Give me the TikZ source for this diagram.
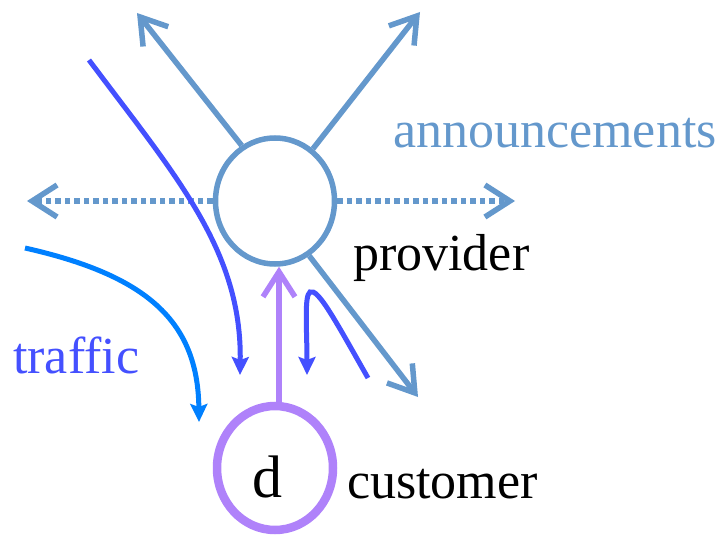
\documentclass[tikz,border=0pt]{standalone}
\usepackage{fontspec}
\setmainfont{Liberation Serif}
\usetikzlibrary{arrows.meta,shapes.geometric}
\definecolor{ann}{RGB}{100,152,204}
\definecolor{trf}{RGB}{68,80,255}
\definecolor{ltb}{RGB}{0,128,255}
\definecolor{pur}{RGB}{175,130,250}
\begin{document}
\begin{tikzpicture}[x=1pt,y=-1pt,
  barb/.tip={Straight Barb[length=25pt,width=32pt]},
  annarrow/.style={draw=ann,line width=5.5pt,-barb},
  anndot/.style={annarrow,dash pattern=on 5.5pt off 4pt},
  trfarrow/.style={draw=trf,line width=5pt,-{Stealth[length=18pt,width=17pt,inset=3pt]}},
  ltbarrow/.style={draw=ltb,line width=5pt,-{Stealth[length=18pt,width=17pt,inset=3pt]}},
  purarrow/.style={draw=pur,line width=5.5pt,-barb},
  provnode/.style={ellipse,draw=ann,line width=5.5pt,minimum width=119pt,minimum height=126pt,inner sep=0pt},
  custnode/.style={ellipse,draw=pur,line width=8.5pt,minimum width=116pt,minimum height=124pt,inner sep=0pt},
  lbl/.style={inner sep=0pt,anchor=base west,font=\fontsize{52}{60}\selectfont},
  dlbl/.style={inner sep=0pt,anchor=base,font=\fontsize{60}{70}\selectfont}
]
\useasboundingbox (0,0) rectangle (724,535);

\node[provnode] (prov) at (275,201) {};
\node[custnode] (cust) at (275,468) {};
\node[dlbl] (dtxt) at (267,497) {d};

% announcement ends
\coordinate (ul) at (137,13);
\coordinate (ur) at (420,12);
\coordinate (lr) at (418,397);
\coordinate (lt) at (27,201);
\coordinate (rt) at (515,201);

\draw[annarrow] (prov.121) -- (ul);
\draw[annarrow] (prov.54) -- (ur);
\draw[annarrow] (prov.-58) -- (lr);
\draw[anndot] (prov.west) -- (lt);
\draw[anndot] (prov.east) -- (rt);

% customer to provider
\draw[purarrow] ([xshift=4pt]cust.north) -- ([xshift=4pt]prov.south);

% traffic
\coordinate (t1s) at (89,60);
\coordinate (t1e) at (240,375);
\coordinate (t2s) at (368,378);
\coordinate (t2e) at (307,375);
\coordinate (t3s) at (25,248);
\coordinate (t3e) at (199,422);

\draw[trfarrow] (t1s) .. controls (175,175) and (242,250) .. (t1e);
\draw[trfarrow] (t2s) .. controls (335,320) and (318,288) .. (310,292) .. controls (304,296) and (307,330) .. (t2e);
\draw[ltbarrow] (t3s) .. controls (145,275) and (198,320) .. (t3e);

% labels
\node[lbl,text=ann] (anntxt) at (393,147) {announcements};
\node[lbl] (provtxt) at (353,270) {provider};
\node[lbl] (custtxt) at (347,498) {customer};
\node[lbl,text=trf] (trftxt) at (13,373) {traffic};
\end{tikzpicture}
\end{document}
